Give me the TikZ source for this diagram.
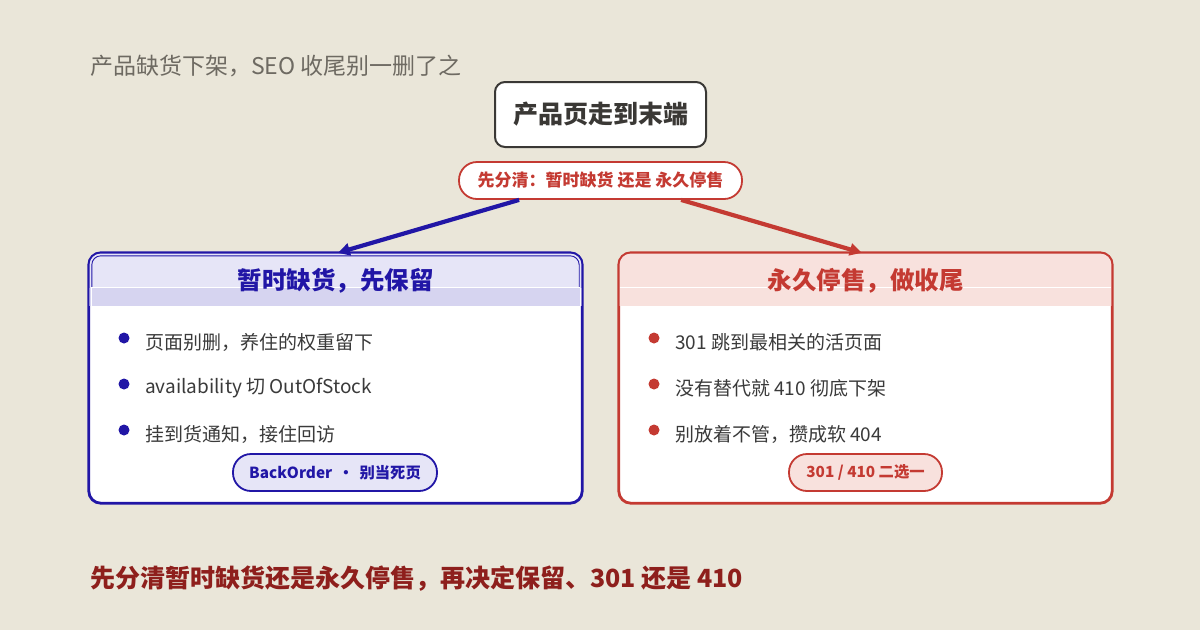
\documentclass[tikz,border=0pt]{standalone}
\usepackage{fontspec}
\setmainfont{Noto Sans CJK SC}
\usetikzlibrary{arrows.meta,calc}
\definecolor{bg}{HTML}{EAE6D9}
\definecolor{tgray}{HTML}{6E6A62}
\definecolor{dark}{HTML}{3A3835}
\definecolor{body}{HTML}{3A3A3A}
\definecolor{cblue}{HTML}{2116A6}
\definecolor{cred}{HTML}{C43A32}
\definecolor{dred}{HTML}{8E1F1C}
\definecolor{bhead}{HTML}{E6E5F7}
\definecolor{bband}{HTML}{D6D4F0}
\definecolor{rhead}{HTML}{F8E1DD}
\tikzset{
  topbox/.style={draw=dark, line width=2pt, fill=white, rounded corners=10pt,
    minimum width=211pt, minimum height=65pt, inner sep=0pt, text=dark,
    font=\fontsize{25}{30}\selectfont\bfseries},
  pill/.style={draw=cred, line width=1.8pt, fill=white, rounded corners=18pt,
    minimum width=283pt, minimum height=37pt, inner sep=0pt, text=cred,
    font=\fontsize{17}{20}\selectfont\bfseries},
  cardbox/.style={minimum width=493pt, minimum height=250pt, inner sep=0pt},
  headtxt/.style={font=\fontsize{24.5}{29}\selectfont\bfseries, inner sep=0pt},
  bul/.style={circle, fill=#1, minimum size=11pt, inner sep=0pt},
  btxt/.style={anchor=west, text=body, inner sep=0pt, font=\fontsize{19}{23}\selectfont},
  badge/.style={line width=1.8pt, rounded corners=18pt, minimum height=37pt,
    inner sep=0pt, font=\fontsize{15.3}{18}\selectfont\bfseries},
  arr/.style={line width=4.2pt, -{Triangle[length=12pt,width=12pt]}},
}
\begin{document}
\begin{tikzpicture}[x=1pt,y=-1pt]
\useasboundingbox[fill=bg] (0,0) rectangle (1200,630);

% title
\node[anchor=west, inner sep=0pt, text=tgray, font=\fontsize{23}{27}\selectfont] (title) at (90,66) {产品缺货下架，SEO 收尾别一删了之};

% top node and question pill
\node[topbox] (top) at (600.5,114.5) {产品页走到末端};
\node[pill] (q) at (600.5,180.5) {先分清：暂时缺货 还是 永久停售};

% cards (placeholders for anchors)
\node[cardbox] (lcard) at (335.5,378) {};
\node[cardbox] (rcard) at (865.5,378) {};

% ---- left card
\fill[white, rounded corners=12pt] (lcard.north west) rectangle (lcard.south east);
\draw[cblue, line width=2.8pt, rounded corners=12pt] (lcard.north west) rectangle (lcard.south east);
\begin{scope}
  \clip[rounded corners=11pt] ($(lcard.north west)+(0.8,0.8)$) rectangle ($(lcard.south east)+(-0.8,-0.8)$);
  \fill[bhead] ($(lcard.north west)+(-2,-2)$) rectangle ($(lcard.north east)+(2,53)$);
  \fill[bband] ($(lcard.north west)+(-2,35)$) rectangle ($(lcard.north east)+(2,53)$);
\end{scope}
\draw[cblue, line width=0.9pt, rounded corners=9pt] ($(lcard.north west)+(3,35)$) -- ($(lcard.north west)+(3,3)$) -- ($(lcard.north east)+(-3,3)$) -- ($(lcard.north east)+(-3,35)$);
\draw[white, line width=0.9pt] ($(lcard.north west)+(2,35)$) -- ($(lcard.north east)+(-2,35)$);
\draw[white, line width=0.8pt] ($(lcard.north west)+(2.2,35)$) -- ($(lcard.north west)+(2.2,53)$);
\draw[white, line width=0.8pt] ($(lcard.north east)+(-2.2,35)$) -- ($(lcard.north east)+(-2.2,53)$);
\node[headtxt, text=cblue] (lhead) at ($(lcard.north)+(0,28)$) {暂时缺货，先保留};

\node[bul=cblue] (lb1) at (124,338) {};
\node[btxt] (lt1) at (145,342) {页面别删，养住的权重留下};
\node[bul=cblue] (lb2) at (124,384) {};
\node[btxt] (lt2) at (145,388) {availability 切 OutOfStock};
\node[bul=cblue] (lb3) at (124,430) {};
\node[btxt] (lt3) at (145,434) {挂到货通知，接住回访};
\node[badge, draw=cblue, fill=bhead, text=cblue, minimum width=204pt] (lbadge) at (335,472.5) {BackOrder \,·\, 别当死页};

% ---- right card
\fill[white, rounded corners=12pt] (rcard.north west) rectangle (rcard.south east);
\draw[cred, line width=2.8pt, rounded corners=12pt] (rcard.north west) rectangle (rcard.south east);
\begin{scope}
  \clip[rounded corners=11pt] ($(rcard.north west)+(0.8,0.8)$) rectangle ($(rcard.south east)+(-0.8,-0.8)$);
  \fill[rhead] ($(rcard.north west)+(-2,-2)$) rectangle ($(rcard.north east)+(2,53)$);
\end{scope}
\draw[white, line width=0.9pt] ($(rcard.north west)+(1,35)$) -- ($(rcard.north east)+(-1,35)$);
\node[headtxt, text=cred] (rhead) at ($(rcard.north)+(0,28)$) {永久停售，做收尾};

\node[bul=cred] (rb1) at (654,338) {};
\node[btxt] (rt1) at (675,342) {301 跳到最相关的活页面};
\node[bul=cred] (rb2) at (654,384) {};
\node[btxt] (rt2) at (675,388) {没有替代就 410 彻底下架};
\node[bul=cred] (rb3) at (654,430) {};
\node[btxt] (rt3) at (675,434) {别放着不管，攒成软 404};
\node[badge, draw=cred, fill=rhead, text=cred, minimum width=153pt] (rbadge) at (865.5,472.5) {301 / 410 二选一};

% arrows
\coordinate (bs) at ($(q.south west)+(61,0)$);
\coordinate (be) at ($(lcard.north west)+(249,0)$);
\coordinate (rs) at ($(q.south west)+(223,0)$);
\coordinate (re) at ($(rcard.north west)+(243,0)$);
\draw[arr, cblue] (bs) -- (be);
\draw[arr, cred] (rs) -- (re);

% footer
\node[anchor=west, inner sep=0pt, text=dred, font=\fontsize{25}{30}\selectfont\bfseries] (foot) at (90,579) {先分清暂时缺货还是永久停售，再决定保留、301 还是 410};
\end{tikzpicture}
\end{document}
